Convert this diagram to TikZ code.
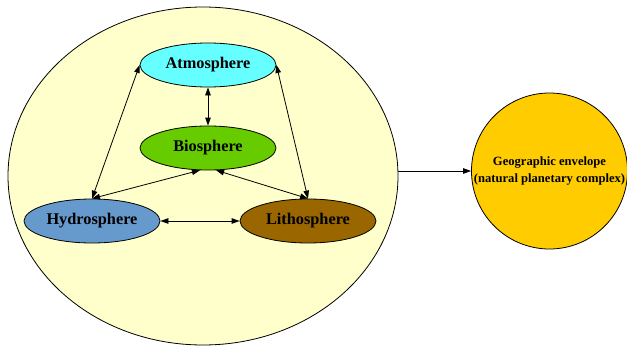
\documentclass[tikz,border=0pt]{standalone}
\usepackage{fontspec}
\setmainfont{Liberation Serif}
\usetikzlibrary{shapes.geometric,arrows.meta}
\definecolor{outerfill}{HTML}{FFFFCC}
\definecolor{atmfill}{HTML}{66FFFF}
\definecolor{biofill}{HTML}{66CC00}
\definecolor{hydfill}{HTML}{6699CC}
\definecolor{litfill}{HTML}{996600}
\definecolor{envfill}{HTML}{FFCC00}
\begin{document}
\begin{tikzpicture}[x=1pt,y=-1pt,
  sphere/.style={ellipse,draw=black,line width=0.8pt,minimum width=136pt,minimum height=44pt,inner sep=0pt,
    font=\fontsize{16.3}{18}\selectfont\bfseries},
  link/.style={line width=0.8pt,{Triangle[length=8pt,width=5.5pt]}-{Triangle[length=8pt,width=5.5pt]}},
  flow/.style={line width=0.8pt,-{Triangle[length=8pt,width=5.5pt]}}]
\useasboundingbox (0,0) rectangle (627,348);
\node[ellipse,draw=black,line width=0.8pt,fill=outerfill,minimum width=390pt,minimum height=338pt,inner sep=0pt] (outer) at (203,176) {};
\node[sphere,fill=atmfill] (atm) at (208,65) {Atmosphere};
\node[sphere,fill=biofill] (bio) at (208,148) {Biosphere};
\node[sphere,fill=hydfill] (hyd) at (92,221) {Hydrosphere};
\node[sphere,fill=litfill] (lit) at (308,221) {Lithosphere};
\node[circle,draw=black,line width=0.8pt,fill=envfill,minimum size=156pt,inner sep=0pt,align=center,
  font=\fontsize{12.6}{16.5}\selectfont\bfseries] (env) at (549.5,171) {Geographic envelope\\(natural planetary complex)};
\draw[link] (atm.west) -- (hyd.north);
\draw[link] (atm.east) -- (lit.north);
\draw[link] (atm.south) -- (bio.north);
\draw[link] (bio.250) -- (hyd.north);
\draw[link] (bio.290) -- (lit.north);
\draw[link] (hyd.east) -- (lit.west);
\draw[flow] (outer.east |- env.west) -- (env.west);
\end{tikzpicture}
\end{document}
